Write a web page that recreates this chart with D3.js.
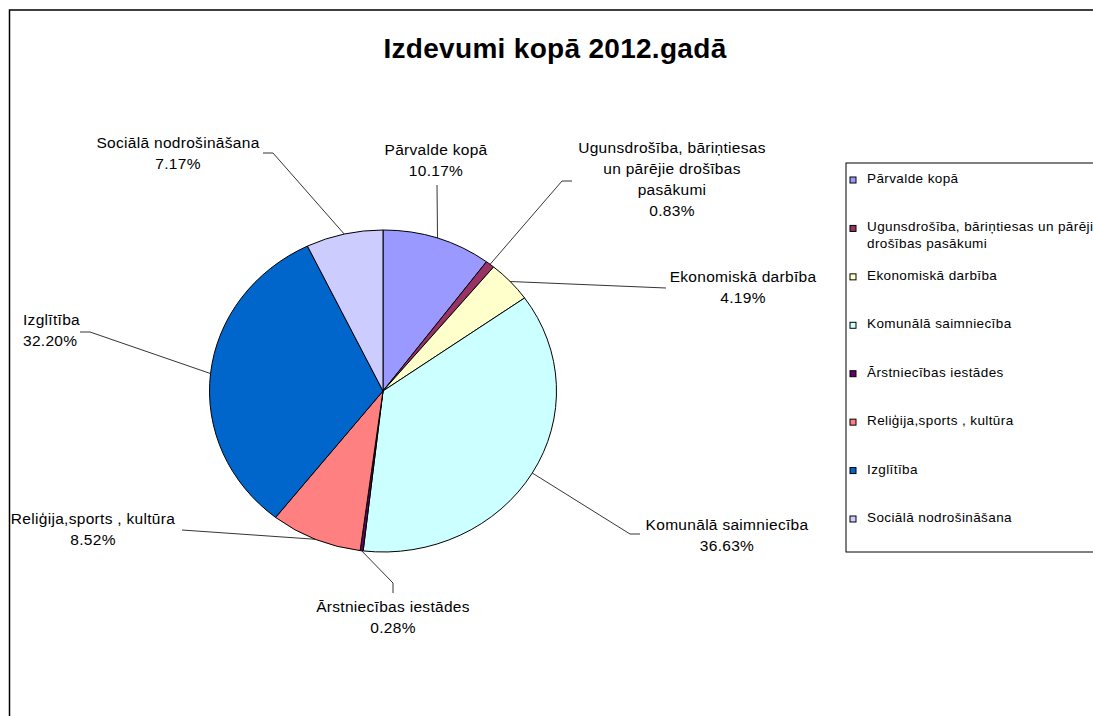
<!DOCTYPE html>
<html>
<head>
<meta charset="utf-8">
<script src="https://cdn.jsdelivr.net/npm/d3@7"></script>
<style>
  body { margin: 0; background: #fff; }
  text { font-family: "Liberation Sans", Arial, sans-serif; fill: #000; }
</style>
</head>
<body>
<div id="chart"></div>
<script>
var width = 1093,
    height = 716;

// data
var categories = ["Pārvalde kopā", "Ugunsdrošība, bāriņtiesas un pārējie drošības pasākumi",
    "Ekonomiskā darbība", "Komunālā saimniecība", "Ārstniecības iestādes",
    "Reliģija,sports , kultūra", "Izglītība", "Sociālā nodrošināšana"];
var shares = [10.17, 0.83, 4.19, 36.63, 0.28, 8.52, 32.20, 7.17];
var colors = ["#9999FF", "#993366", "#FFFFCC", "#CCFFFF", "#660066", "#FF8080", "#0066CC", "#CCCCFF"];

// label text as it is broken in the picture
var labelLines = [["Pārvalde kopā"], ["Ugunsdrošība, bāriņtiesas", "un pārējie drošības", "pasākumi"],
    ["Ekonomiskā darbība"], ["Komunālā saimniecība"], ["Ārstniecības iestādes"],
    ["Reliģija,sports , kultūra"], ["Izglītība"], ["Sociālā nodrošināšana"]];
var legendLines = [["Pārvalde kopā"], ["Ugunsdrošība, bāriņtiesas un pārējie", "drošības pasākumi"],
    ["Ekonomiskā darbība"], ["Komunālā saimniecība"], ["Ārstniecības iestādes"],
    ["Reliģija,sports , kultūra"], ["Izglītība"], ["Sociālā nodrošināšana"]];

// label placement: x, baseline y, anchor, leader elbow points (label side)
var labelPos = [
    {x: 436, y: 155, anchor: "middle", leader: [[437, 185]]},
    {x: 672, y: 153, anchor: "middle", leader: [[572, 181], [562, 181]]},
    {x: 743, y: 282, anchor: "middle", leader: [[666, 288]]},
    {x: 727, y: 530, anchor: "middle", leader: [[640, 534], [630, 534]]},
    {x: 393, y: 612, anchor: "middle", leader: [[393, 593], [393, 583]]},
    {x: 93, y: 524, anchor: "middle", leader: [[182, 530]]},
    {x: 23, y: 325, anchor: "start", leader: [[80, 332], [90, 332]]},
    {x: 178, y: 148, anchor: "middle", leader: [[263, 153], [273, 153]]}
];

var cx = 383, cy = 391, r = 161, sx = 173.5 / 161;

var svg = d3.select("#chart").append("svg")
    .attr("width", width)
    .attr("height", height)
    .style("display", "block");

svg.append("rect")
    .attr("width", width).attr("height", height)
    .attr("fill", "#fff");

// chart frame, runs off the page at right and bottom
svg.append("rect")
    .attr("x", 9.5).attr("y", 10)
    .attr("width", 1200).attr("height", 800)
    .attr("fill", "none")
    .attr("stroke", "#000")
    .attr("stroke-width", 1.5);

svg.append("text")
    .attr("x", 555)
    .attr("y", 58)
    .attr("text-anchor", "middle")
    .style("font-size", "28px")
    .style("font-weight", "bold")
    .style("letter-spacing", "0.3px")
    .text("Izdevumi kopā 2012.gadā");

var pie = d3.pie().sort(null).value(function(d) { return d; });
var arcs = pie(shares);
var arc = d3.arc().innerRadius(0).outerRadius(r);

var g = svg.append("g")
    .attr("transform", "translate(" + cx + "," + cy + ") scale(" + sx + ",1)");

g.selectAll("path")
    .data(arcs)
  .enter().append("path")
    .attr("d", arc)
    .attr("fill", function(d, i) { return colors[i]; })
    .attr("stroke", "#000")
    .attr("stroke-width", 1)
    .attr("vector-effect", "non-scaling-stroke");

function edgePoint(d) {
    var a = (d.startAngle + d.endAngle) / 2;
    return [cx + r * sx * Math.sin(a), cy - r * Math.cos(a)];
}

// leader lines
var line = d3.line();
svg.selectAll(".leader")
    .data(arcs)
  .enter().append("path")
    .attr("class", "leader")
    .attr("d", function(d, i) { return line(labelPos[i].leader.concat([edgePoint(d)])); })
    .attr("fill", "none")
    .attr("stroke", "#000")
    .attr("stroke-width", 0.8);

// data labels
var fmt = d3.format(".2f");
var labels = svg.selectAll(".label")
    .data(arcs)
  .enter().append("text")
    .attr("class", "label")
    .attr("text-anchor", function(d, i) { return labelPos[i].anchor; })
    .style("font-size", "15.5px")
    .style("letter-spacing", "0.3px");

labels.each(function(d, i) {
    var t = d3.select(this);
    var lines = labelLines[i].concat([fmt(shares[i]) + "%"]);
    lines.forEach(function(s, k) {
        t.append("tspan")
            .attr("x", labelPos[i].x)
            .attr("y", labelPos[i].y + k * 21)
            .text(s);
    });
});

// legend
var legendY = d3.scalePoint().domain(d3.range(categories.length)).range([183, 522]);

svg.append("rect")
    .attr("x", 846).attr("y", 163)
    .attr("width", 400).attr("height", 389)
    .attr("fill", "none")
    .attr("stroke", "#000")
    .attr("stroke-width", 1);

var item = svg.selectAll(".legend")
    .data(categories)
  .enter().append("g")
    .attr("class", "legend")
    .attr("transform", function(d, i) { return "translate(0," + legendY(i) + ")"; });

item.append("rect")
    .attr("x", 850).attr("y", -6)
    .attr("width", 6).attr("height", 6)
    .attr("fill", function(d, i) { return colors[i]; })
    .attr("stroke", "#000")
    .attr("stroke-width", 1);

item.append("text")
    .style("font-size", "13.5px")
    .style("letter-spacing", "0.4px")
    .each(function(d, i) {
        var t = d3.select(this);
        legendLines[i].forEach(function(s, k) {
            t.append("tspan").attr("x", 867).attr("y", k * 17).text(s);
        });
    });
</script>
</body>
</html>
